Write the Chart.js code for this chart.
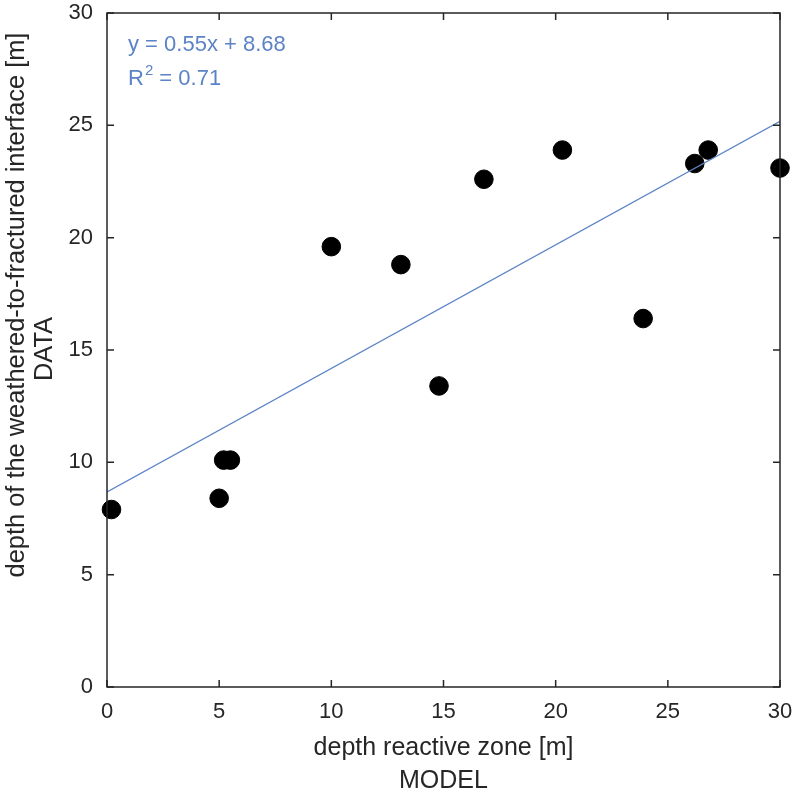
<!DOCTYPE html>
<html>
<head>
<meta charset="utf-8">
<script src="https://cdn.jsdelivr.net/npm/chart.js@4/dist/chart.umd.min.js"></script>
<style>
  html, body { margin: 0; padding: 0; background: #fff; }
  #wrap { width: 796px; height: 799px; }
</style>
</head>
<body>
<div id="wrap"><canvas id="chart" width="796" height="799"></canvas></div>
<script>
    // model depth (x) vs data depth (y)
    const modelDepth = [0.2, 5.0, 5.2, 5.5, 10.0, 13.1, 14.8, 16.8, 20.3, 23.9, 26.2, 26.8, 30.0];
    const dataDepth = [7.9, 8.4, 10.1, 10.1, 19.6, 18.8, 13.4, 22.6, 23.9, 16.4, 23.3, 23.9, 23.1];

    // linear fit shown in the figure
    const fitSlope = 0.55;
    const fitIntercept = 8.68;
    const fitR2 = "0.71";
    const fitRange = [0, 30];

    const tickValues = [0, 5, 10, 15, 20, 25, 30];
    const xTitle = ["depth reactive zone [m]", "MODEL"];
    const yTitle = ["depth of the weathered-to-fractured interface [m]", "DATA"];

    const fontFamily = "'Liberation Sans', Arial, sans-serif";
    const lineBlue = "#5b83c6";
    const axisColor = "#262626";

    const points = modelDepth.map((x, i) => ({ x: x, y: dataDepth[i] }));
    const fitPoints = fitRange.map((x) => ({ x: x, y: fitSlope * x + fitIntercept }));

    // box, inward ticks, y title and the fit equation
    const boxPlugin = {
      id: "box",
      afterDraw(chart) {
        const ctx = chart.ctx;
        const { left, right, top, bottom } = chart.chartArea;
        const xs = chart.scales.x;
        const ys = chart.scales.y;
        ctx.save();
        ctx.strokeStyle = axisColor;
        ctx.lineWidth = 1.5;
        ctx.strokeRect(left, top, right - left, bottom - top);
        ctx.beginPath();
        tickValues.forEach((v) => {
          const px = xs.getPixelForValue(v);
          ctx.moveTo(px, bottom); ctx.lineTo(px, bottom - 7);
          ctx.moveTo(px, top); ctx.lineTo(px, top + 7);
          const py = ys.getPixelForValue(v);
          ctx.moveTo(left, py); ctx.lineTo(left + 7, py);
          ctx.moveTo(right, py); ctx.lineTo(right - 7, py);
        });
        ctx.stroke();

        // y axis title, two rotated lines
        ctx.fillStyle = axisColor;
        ctx.font = "25.4px " + fontFamily;
        ctx.textAlign = "center";
        ctx.textBaseline = "alphabetic";
        ctx.save();
        ctx.translate(24, 305);
        ctx.rotate(-Math.PI / 2);
        ctx.fillText(yTitle[0], 0, 0);
        ctx.restore();
        ctx.save();
        ctx.translate(52, 349);
        ctx.rotate(-Math.PI / 2);
        ctx.fillText(yTitle[1], 0, 0);
        ctx.restore();

        // equation text
        ctx.fillStyle = lineBlue;
        ctx.textAlign = "left";
        ctx.font = "22px " + fontFamily;
        const tx = left + 21;
        ctx.fillText("y = " + fitSlope.toFixed(2) + "x + " + fitIntercept.toFixed(2), tx, top + 38);
        ctx.fillText("R", tx, top + 72);
        const rw = ctx.measureText("R").width;
        ctx.font = "15px " + fontFamily;
        ctx.fillText("2", tx + rw + 1, top + 62);
        const sw = ctx.measureText("2").width;
        ctx.font = "22px " + fontFamily;
        ctx.fillText(" = " + fitR2, tx + rw + sw + 1, top + 72);
        ctx.restore();
      }
    };

    new Chart(document.getElementById("chart"), {
      type: "scatter",
      data: {
        datasets: [
          {
            label: "fit",
            type: "line",
            data: fitPoints,
            borderColor: lineBlue,
            borderWidth: 1.4,
            pointRadius: 0,
            fill: false,
          },
          {
            label: "data",
            data: points,
            backgroundColor: "#000",
            borderColor: "#000",
            borderWidth: 1,
            pointRadius: 9.3,
            pointHoverRadius: 9.3,
            clip: false,
          },
        ],
      },
      options: {
        responsive: false,
        animation: false,
        layout: { padding: { top: 13, right: 16, left: 0, bottom: 0 } },
        plugins: { legend: { display: false }, tooltip: { enabled: false } },
        scales: {
          x: {
            type: "linear",
            min: 0,
            max: 30,
            afterFit(scale) {
              scale.height = 112;
              scale.paddingLeft = 0;
              scale.paddingRight = 0;
            },
            afterBuildTicks(scale) { scale.ticks = tickValues.map((v) => ({ value: v })); },
            grid: { display: false },
            border: { display: false },
            ticks: { color: axisColor, font: { size: 22, family: fontFamily }, padding: 4 },
            title: {
              display: true,
              text: xTitle,
              color: axisColor,
              font: { size: 25, family: fontFamily, lineHeight: 1.32 },
              padding: { top: 0, bottom: 1.5 },
            },
          },
          y: {
            type: "linear",
            min: 0,
            max: 30,
            afterFit(scale) {
              scale.width = 107;
              scale.paddingTop = 0;
              scale.paddingBottom = 0;
            },
            afterBuildTicks(scale) { scale.ticks = tickValues.map((v) => ({ value: v })); },
            grid: { display: false },
            border: { display: false },
            ticks: { color: axisColor, font: { size: 22, family: fontFamily }, padding: 6 },
          },
        },
      },
      plugins: [boxPlugin],
    });
</script>
</body>
</html>
